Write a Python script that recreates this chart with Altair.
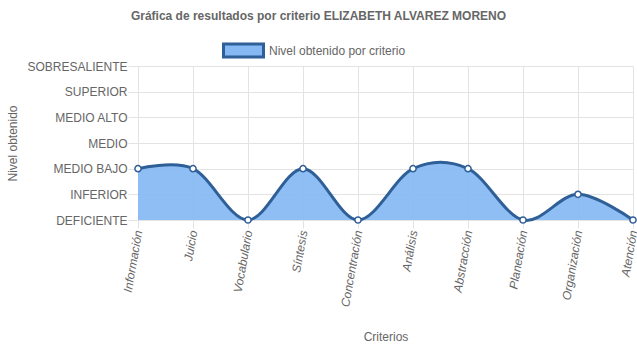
import altair as alt
import pandas as pd

# Evaluation levels, lowest to highest (index = numeric level)
niveles = ["DEFICIENTE", "INFERIOR", "MEDIO BAJO", "MEDIO", "MEDIO ALTO", "SUPERIOR", "SOBRESALIENTE"]

criterios = ["Información", "Juicio", "Vocabulario", "Síntesis", "Concentración",
             "Análisis", "Abstracción", "Planeación", "Organización", "Atención"]
valores = [2, 2, 0, 2, 0, 2, 2, 0, 1, 0]

serie = "Nivel obtenido por criterio"
titulo = "Gráfica de resultados por criterio ELIZABETH ALVAREZ MORENO"

df = pd.DataFrame({"criterio": criterios, "nivel": valores, "serie": serie})

FILL = "#86b9f4"
STROKE = "#2f5f97"
GRAY = "#666666"
GRID = "#e3e3e3"
FONT = "Liberation Sans"

label_expr = "[" + ",".join(f"'{n}'" for n in niveles) + "][datum.value]"

x = alt.X(
    "criterio:N",
    sort=criterios,
    scale=alt.Scale(type="point", padding=0),
    axis=alt.Axis(
        title="Criterios",
        titleFont=FONT, titleFontSize=12, titleFontWeight="normal", titleColor=GRAY,
        titleY=116, titleBaseline="middle",
        labelAngle=280, labelAlign="right", labelBaseline="middle",
        labelFont=FONT, labelFontSize=12, labelFontStyle="italic", labelColor=GRAY,
        labelPadding=2,
        tickSize=8, tickColor=GRID, domainColor=GRID,
        grid=True, gridColor=GRID,
    ),
)
y = alt.Y(
    "nivel:Q",
    scale=alt.Scale(domain=[0, 6], nice=False, zero=True),
    axis=alt.Axis(
        title="Nivel obtenido",
        titleFont=FONT, titleFontSize=12, titleFontWeight="normal", titleColor=GRAY,
        titleX=-126, titleY=77, titleAngle=270, titleAlign="center", titleBaseline="middle",
        values=list(range(len(niveles))), labelExpr=label_expr,
        labelFont=FONT, labelFontSize=12, labelColor=GRAY, labelPadding=1,
        tickSize=10, tickColor=GRID, domainColor=GRID,
        grid=True, gridColor=GRID,
    ),
)

base = alt.Chart(df).encode(x=x, y=y)

area = base.mark_area(interpolate="cardinal", opacity=0.92).encode(
    color=alt.Color(
        "serie:N",
        scale=alt.Scale(domain=[serie], range=[FILL]),
        legend=alt.Legend(
            title=None, orient="none", legendX=84, legendY=-37, direction="horizontal",
            symbolType="M-1,-0.33H1V0.33H-1Z", symbolSize=1600,
            symbolStrokeColor=STROKE, symbolStrokeWidth=3, symbolFillColor=FILL,
            symbolOpacity=1,
            labelFont=FONT, labelFontSize=12, labelColor=GRAY, labelOffset=4,
            padding=0,
        ),
    )
)
line = base.mark_line(interpolate="cardinal", color=STROKE, strokeWidth=3)
points = base.mark_point(filled=True, fill="white", stroke=STROKE, strokeWidth=1.5,
                         size=38, opacity=1)

chart = (
    alt.layer(area, line, points)
    .properties(
        width=495, height=154,
        autosize=alt.AutoSizeParams(type="none"),
        padding={"left": 138, "top": 66, "right": 4, "bottom": 128},
        title=alt.TitleParams(
            titulo, font=FONT, fontSize=12, fontWeight="bold", color=GRAY,
            anchor="middle", frame="group", dx=-67, offset=6,
        ),
    )
    .configure_view(stroke=None)
)

chart.save("out.html", embed_options={"renderer": "svg", "actions": False})
